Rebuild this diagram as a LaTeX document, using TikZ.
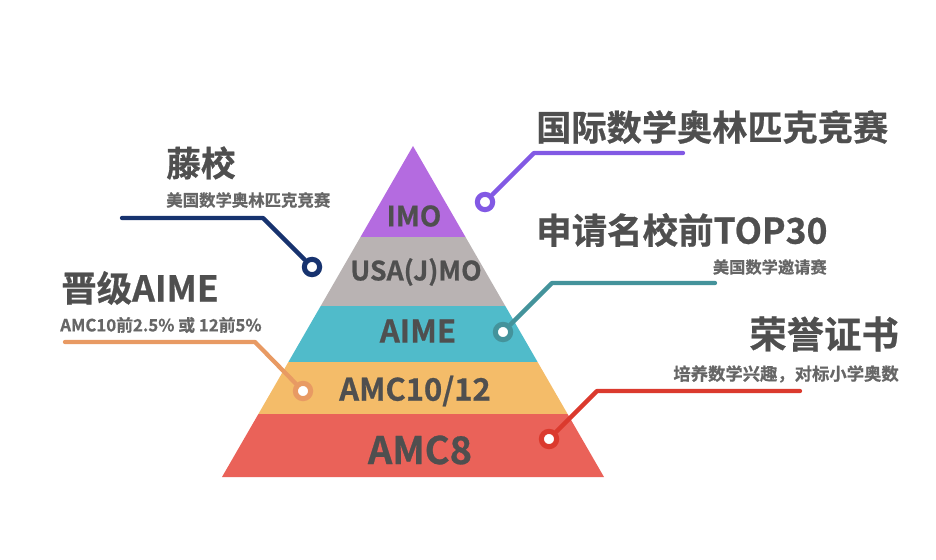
\documentclass[tikz,border=0pt]{standalone}
\usepackage{fontspec}
\usepackage{xcolor}
\setmainfont{Noto Sans CJK SC}[BoldFont={Noto Sans CJK SC Bold},BoldFeatures={FakeBold=0.7}]
\definecolor{inkgray}{HTML}{4F4F4F}
\definecolor{subgray}{HTML}{666666}
\definecolor{bandimo}{HTML}{B46BE0}
\definecolor{bandusa}{HTML}{B9B3B3}
\definecolor{bandaime}{HTML}{50BBCA}
\definecolor{bandamcb}{HTML}{F4BC69}
\definecolor{bandamca}{HTML}{EA6259}
\definecolor{leadviolet}{HTML}{8259E4}
\definecolor{leadnavy}{HTML}{17336F}
\definecolor{leadteal}{HTML}{44939B}
\definecolor{leadorange}{HTML}{E89A63}
\definecolor{leadred}{HTML}{DB3A2E}
\tikzset{
  bandlabel/.style={font=\bfseries\fontsize{#1}{#1}\selectfont,text=inkgray,inner sep=0pt},
  headlabel/.style={font=\bfseries\fontsize{#1}{#1}\selectfont,text=inkgray,inner sep=0pt},
  sublabel/.style={font=\bfseries\fontsize{#1}{#1}\selectfont,text=subgray,inner sep=0pt},
  ringdot/.style={circle,draw=#1,fill=white,line width=3.8pt,minimum size=11.5pt,inner sep=0pt},
  leadline/.style={draw=#1,line width=3.2pt,line cap=round,line join=round}
}
\begin{document}
\begin{tikzpicture}[x=0.75pt,y=-0.75pt]
        \useasboundingbox (0,0) rectangle (936,560);
        \fill[bandimo] (413,146) -- (465.5,237) -- (360.5,237) -- cycle;
        \fill[bandusa] (360.5,237) -- (465.5,237) -- (505.3,306) -- (320.7,306) -- cycle;
        \fill[bandaime] (320.7,306) -- (505.3,306) -- (537.6,362) -- (288.4,362) -- cycle;
        \fill[bandamcb] (288.4,362) -- (537.6,362) -- (567.6,414) -- (258.4,414) -- cycle;
        \fill[bandamca] (258.4,414) -- (567.6,414) -- (604,477) -- (222,477) -- cycle;
        \node[bandlabel=21] (imo) at (414,216) {IMO};
        \node[bandlabel=20] (usamo) at (416,272) {USA(J)MO};
        \node[bandlabel=23.5] (aime) at (418,331) {AIME};
        \node[bandlabel=23.2] (amcb) at (415,391) {AMC10/12};
        \node[bandlabel=28.5] (amca) at (420,450) {AMC8};
        \node[headlabel=26.4,anchor=west] (imohead) at (536,127) {国际数学奥林匹克竞赛};
        \node[headlabel=26.6,anchor=west] (tophead) at (536,230) {申请名校前TOP30};
        \node[sublabel=12.2,anchor=east] (topsub) at (827,267) {美国数学邀请赛};
        \node[headlabel=28,anchor=east] (honorhead) at (899,334) {荣誉证书};
        \node[sublabel=13,anchor=east] (honorsub) at (899,374) {培养数学兴趣，对标小学奥数};
        \node[headlabel=26,anchor=west] (ivyhead) at (166,163) {藤校};
        \node[sublabel=12.3,anchor=west] (ivysub) at (166,200) {美国数学奥林匹克竞赛};
        \node[headlabel=26.6,anchor=west] (passhead) at (61,288) {晋级AIME};
        \node[sublabel=12.6,anchor=west] (passsub) at (60,325) {AMC10前2.5\% 或 12前5\%};
        \coordinate (imoknee) at (534,153);
        \coordinate (imoend) at (683,153);
        \coordinate (ivyknee) at (263,218);
        \coordinate (ivyend) at (122,218);
        \coordinate (topknee) at (552,283);
        \coordinate (topend) at (715,283);
        \coordinate (passknee) at (255,342);
        \coordinate (passend) at (65,342);
        \coordinate (honorknee) at (597,391);
        \coordinate (honorend) at (800,391);
        \node[ringdot=leadviolet] (imoring) at (485,202) {};
        \node[ringdot=leadnavy] (ivyring) at (312,267) {};
        \node[ringdot=leadteal] (topring) at (503,332) {};
        \node[ringdot=leadorange] (passring) at (303,391) {};
        \node[ringdot=leadred] (honorring) at (549,439) {};
        \draw[leadline=leadviolet] (imoring) -- (imoknee) -- (imoend);
        \draw[leadline=leadnavy] (ivyring) -- (ivyknee) -- (ivyend);
        \draw[leadline=leadteal] (topring) -- (topknee) -- (topend);
        \draw[leadline=leadorange] (passring) -- (passknee) -- (passend);
        \draw[leadline=leadred] (honorring) -- (honorknee) -- (honorend);
      \end{tikzpicture}
\end{document}
